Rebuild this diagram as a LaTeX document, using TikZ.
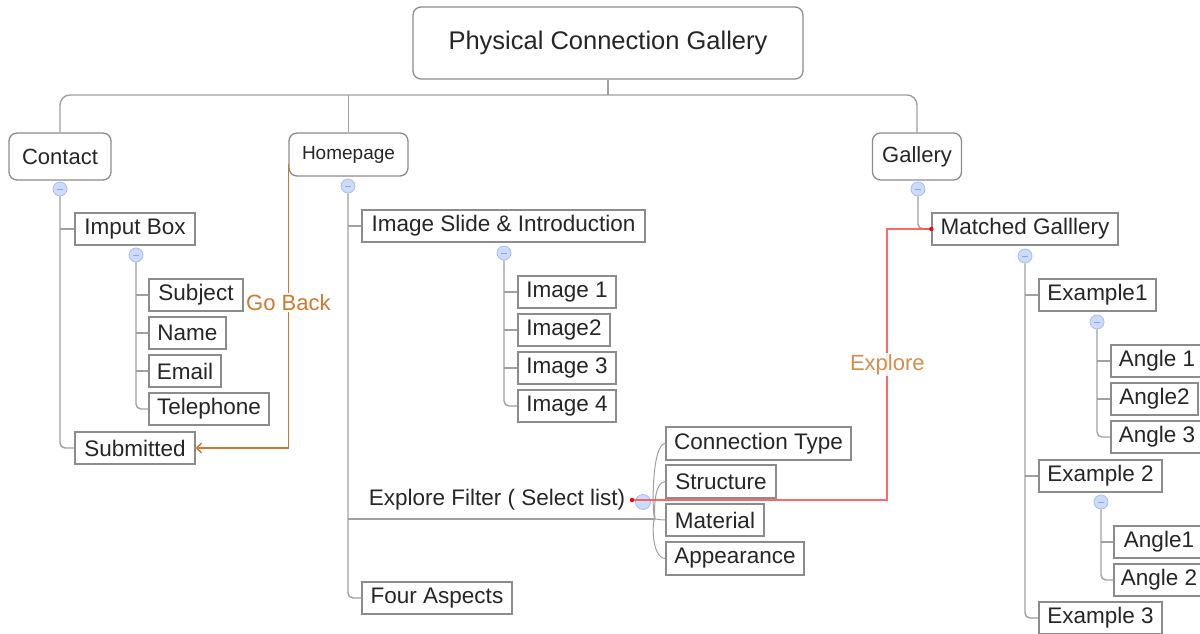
\documentclass[tikz,border=0pt]{standalone}
\usepackage{fontspec}
\setmainfont{Liberation Sans}
\usetikzlibrary{arrows.meta}
\definecolor{txt}{HTML}{262626}
\definecolor{bord}{HTML}{8C8C8C}
\definecolor{connc}{HTML}{A0A0A0}
\definecolor{orng}{HTML}{CC7A2E}
\definecolor{redl}{HTML}{FF4D4D}
\definecolor{cfill}{HTML}{CCDBFA}
\definecolor{cdraw}{HTML}{A6BEF0}
\definecolor{cminus}{HTML}{8CA8E0}
\begin{document}
\begin{tikzpicture}[x=1pt,y=-1pt,
  box/.style={draw=bord, line width=1.3pt, fill=white, text=txt, inner sep=0pt,
    minimum height=32pt, font=\fontsize{22.5}{26}\selectfont},
  topbox/.style={box, rounded corners=8pt},
  cn/.style={draw=connc, line width=1.4pt},
  cir/.style={circle, minimum size=14pt, inner sep=0pt, fill=cfill, draw=cdraw, line width=0.8pt,
    path picture={\draw[cminus, line width=1pt]
      ([xshift=-3pt]path picture bounding box.center) -- ([xshift=3pt]path picture bounding box.center);}},
  bigcir/.style={circle, minimum size=15pt, inner sep=0pt, fill=cfill, draw=cdraw, line width=0.8pt},
  lbl/.style={fill=white, text=orng, inner sep=1.5pt, font=\fontsize{22}{26}\selectfont},
  redline/.style={draw=redl, line width=2pt, opacity=0.85}
]
\useasboundingbox (0,0) rectangle (1200,634);
\clip (0,0) rectangle (1200,634);

% top level
\node[topbox, minimum width=390, minimum height=72, font=\fontsize{25.5}{30}\selectfont] (title) at (608,43) {Physical Connection Gallery};
\node[topbox, minimum width=102, minimum height=47, font=\fontsize{22}{26}\selectfont] (contact) at (60,156.5) {Contact};
\node[topbox, minimum width=119, minimum height=43, font=\fontsize{19}{23}\selectfont] (home) at (348.5,154.5) {Homepage};
\node[topbox, minimum width=89, minimum height=47, font=\fontsize{22}{26}\selectfont] (gallery) at (917,156.5) {Gallery};

\coordinate (bus) at (608,95);
\draw[cn, rounded corners=10pt] (contact.north) |- (bus) -| (gallery.north);
\draw[cn] (title.south) -- (bus);
\draw[cn] (home.north) -- (home.north |- bus);

% contact branch
\node[box, minimum width=120] (imput) at (135,229) {Imput Box};
\node[box, minimum width=94] (subject) at (196,295) {Subject};
\node[box, minimum width=77] (name) at (187.5,333) {Name};
\node[box, minimum width=72] (email) at (185,371) {Email};
\node[box, minimum width=120] (telephone) at (209,409) {Telephone};
\node[box, minimum width=120] (submitted) at (135,448) {Submitted};

\node[cir] (cc) at (60,189) {};
\draw[cn, rounded corners=5pt] (cc.south) |- (submitted.west);
\draw[cn] (cc.south |- imput.west) -- (imput.west);
\node[cir] (ic) at (136,255) {};
\draw[cn, rounded corners=5pt] (ic.south) |- (telephone.west);
\foreach \n in {subject,name,email} \draw[cn] (ic.south |- \n.west) -- (\n.west);

% homepage branch
\node[box, minimum width=283] (slide) at (503.5,226) {Image Slide \& Introduction};
\node[box, minimum width=98] (img1) at (567,292) {Image 1};
\node[box, minimum width=92] (img2) at (564,330) {Image2};
\node[box, minimum width=98] (img3) at (567,368) {Image 3};
\node[box, minimum width=98] (img4) at (567,406) {Image 4};
\node[box, minimum width=150] (four) at (437,598) {Four Aspects};
\node[text=txt, inner sep=0pt, font=\fontsize{22.5}{26}\selectfont] (ef) at (497,500) {Explore Filter ( Select list)};
\node[box, minimum width=185, minimum height=33] (ctype) at (758.5,443.5) {Connection Type};
\node[box, minimum width=110, minimum height=33] (struct) at (721,481.5) {Structure};
\node[box, minimum width=98] (mat) at (715,520) {Material};
\node[box, minimum width=138, minimum height=33] (appear) at (735,558.5) {Appearance};

\node[cir] (hc) at (348,186) {};
\draw[cn, rounded corners=5pt] (hc.south) |- (four.west);
\draw[cn] (hc.south |- slide.west) -- (slide.west);
\coordinate (fork) at (655,519);
\draw[cn] (hc.south |- fork) -- (fork);
\node[cir] (sc) at (504,253) {};
\draw[cn, rounded corners=5pt] (sc.south) |- (img4.west);
\foreach \n in {img1,img2,img3} \draw[cn] (sc.south |- \n.west) -- (\n.west);

\draw[cn, line width=1pt] (fork) .. controls (652,519) and (651,443) .. (ctype.west);
\draw[cn, line width=1pt] (fork) .. controls (654,510) and (654,482) .. (struct.west);
\draw[cn, line width=1pt] (fork) .. controls (658,519) and (660,520) .. (mat.west);
\draw[cn, line width=1pt] (fork) .. controls (652,519) and (651,558) .. (appear.west);
\node[bigcir] (efc) at (643,502) {};

% go back
\draw[orng, line width=1.4pt, -{Straight Barb[length=5pt,width=10pt]}]
  ([yshift=-9pt]home.west) |- node[lbl, pos=0.245] {Go Back} (submitted.east);

% gallery branch
\node[box, minimum width=186] (matched) at (1025,229) {Matched Galllery};
\node[box, minimum width=117] (ex1) at (1097.5,295) {Example1};
\node[box, minimum width=123] (ex2) at (1100.5,476) {Example 2};
\node[box, minimum width=123] (ex3) at (1100.5,618) {Example 3};
\node[box, minimum width=92] (a11) at (1157,361) {Angle 1};
\node[box, minimum width=87] (a12) at (1154.5,399) {Angle2};
\node[box, minimum width=92] (a13) at (1157,437) {Angle 3};
\node[box, minimum width=90] (a21) at (1159,542) {Angle1};
\node[box, minimum width=90] (a22) at (1159,580) {Angle 2};

\node[cir] (gc) at (918,189) {};
\draw[cn, rounded corners=5pt] (gc.south) |- (matched.west);
\node[cir] (mc) at (1025,256) {};
\draw[cn, rounded corners=5pt] (mc.south) |- (ex3.west);
\foreach \n in {ex1,ex2} \draw[cn] (mc.south |- \n.west) -- (\n.west);
\node[cir] (e1c) at (1097,322) {};
\draw[cn, rounded corners=5pt] (e1c.south) |- (a13.west);
\foreach \n in {a11,a12} \draw[cn] (e1c.south |- \n.west) -- (\n.west);
\node[cir] (e2c) at (1101,502) {};
\draw[cn, rounded corners=5pt] (e2c.south) |- (a22.west);
\draw[cn] (e2c.south |- a21.west) -- (a21.west);

% explore link
\coordinate (rd) at (632,500);
\draw[redline] (rd) -| node[lbl, pos=0.75] {Explore} ([xshift=-44pt]matched.west) -- (matched.west);
\fill[red] (rd) circle (2.2pt);
\fill[red] (matched.west) circle (2.2pt);
\end{tikzpicture}
\end{document}
